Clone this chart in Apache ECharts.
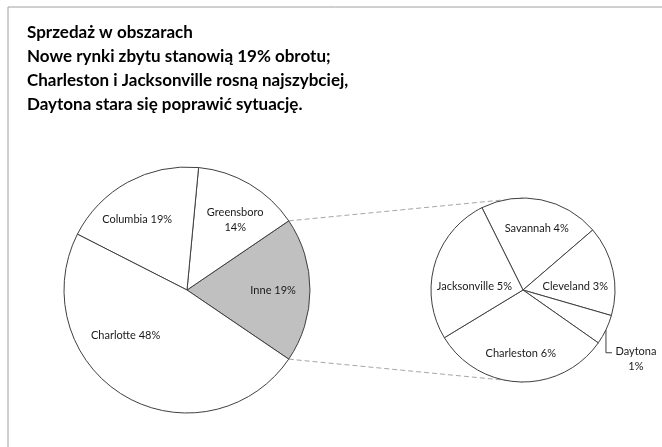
<!DOCTYPE html>
<html>
<head>
<meta charset="utf-8">
<script src="https://cdn.jsdelivr.net/npm/echarts@6/dist/echarts.min.js"></script>
<style>
  html, body { margin: 0; padding: 0; background: #fff; }
  #main { width: 662px; height: 447px; }
</style>
</head>
<body>
<div id="main"></div>
<script>
// main pie, counterclockwise from the "Inne" wedge
const mainNames = ['Inne', 'Greensboro', 'Columbia', 'Charlotte']
const mainValues = [19, 14, 19, 48]
// breakdown of "Inne", clockwise from the top-left
const subNames = ['Savannah', 'Cleveland', 'Daytona', 'Charleston', 'Jacksonville']
const subValues = [4, 3, 1, 6, 5]

const titleLines = [
  'Sprzedaż w obszarach',
  'Nowe rynki zbytu stanowią 19% obrotu;',
  'Charleston i Jacksonville rosną najszybciej,',
  'Daytona stara się poprawić sytuację.'
]

// layout
const FONT = 'Lato'
const MAIN = { cx: 187, cy: 290, r: 123 }
const SUB = { cx: 523, cy: 290, r: 92, start: 116.5 }
// label spot: [angle deg ccw from east, distance as fraction of radius]
const labelSpot = {
  Inne: [0, 0.70],
  Greensboro: [55.4, 0.69],
  Columbia: [125.4, 0.70],
  Charlotte: [216.4, 0.62],
  Savannah: [77.5, 0.69],
  Cleveland: [4.4, 0.57],
  Jacksonville: [175.3, 0.53],
  Charleston: [-92, 0.69]
}

const total = (arr) => arr.reduce((a, b) => a + b, 0)
const rad = (d) => d * Math.PI / 180
const onCircle = (p, ang, f) => [p.cx + p.r * f * Math.cos(rad(ang)), p.cy - p.r * f * Math.sin(rad(ang))]

const mainTotal = total(mainValues)
const subTotal = total(subValues)
const otherHalf = mainValues[0] / mainTotal * 180
const mainStart = 360 - otherHalf

// mid angle of a wedge in the small pie (clockwise from SUB.start)
function subMidAngle (i) {
  let before = 0
  for (let k = 0; k < i; k++) before += subValues[k]
  return SUB.start - (before + subValues[i] / 2) / subTotal * 360
}

const pct = (v) => Math.round(v / mainTotal * 100) + '%'

const lineColor = '#404040'
const textStyle = { fontFamily: FONT, fontSize: 11, color: '#1a1a1a' }

const mainData = mainNames.map((n, i) => ({
  name: n,
  value: mainValues[i],
  itemStyle: { color: n === 'Inne' ? '#c0c0c0' : '#ffffff' },
  label: { formatter: n === 'Greensboro' ? n + '\n' + pct(mainValues[i]) : n + ' ' + pct(mainValues[i]) }
}))

const subData = subNames.map((n, i) => {
  const item = {
    name: n,
    value: subValues[i],
    itemStyle: { color: '#ffffff' },
    label: { formatter: n + ' ' + pct(subValues[i]) }
  }
  if (n === 'Daytona') {
    item.label = { position: 'outside', formatter: n + '\n' + pct(subValues[i]) }
    item.labelLine = { show: true, lineStyle: { color: lineColor, width: 1 } }
  }
  return item
})

function placeLabel (pie, params) {
  const name = params.text.split(/[\s\n]/)[0]
  if (name === 'Daytona') {
    const p = onCircle(SUB, subMidAngle(subNames.indexOf('Daytona')), 1)
    const y = p[1] + 23
    return {
      x: p[0] + 30,
      y: y - 9,
      align: 'center',
      verticalAlign: 'top',
      labelLinePoints: [p, [p[0], y], [p[0] + 6, y]]
    }
  }
  const s = labelSpot[name]
  if (!s) return {}
  const q = onCircle(pie, s[0], s[1])
  return { x: q[0], y: q[1], align: 'center', verticalAlign: 'middle' }
}

// dashed connectors from the "Inne" wedge edges to top / bottom of the small pie
const edgeTop = onCircle(MAIN, otherHalf, 1)
const edgeBottom = onCircle(MAIN, -otherHalf, 1)
const subTop = [SUB.cx, SUB.cy - SUB.r]
const subBottom = [SUB.cx, SUB.cy + SUB.r]
const dashStyle = { stroke: '#a6a6a6', lineWidth: 1, lineDash: [5, 3] }

const chart = echarts.init(document.getElementById('main'), null, { renderer: 'canvas' })

const option = {
  backgroundColor: '#ffffff',
  animation: false,
  title: {
    text: titleLines.join('\n'),
    left: 22,
    top: 16,
    textStyle: { fontFamily: FONT, fontSize: 17, fontWeight: 'bold', color: '#000', lineHeight: 24 }
  },
  graphic: [
    {
      type: 'rect',
      shape: { x: 8, y: 7, width: 700, height: 500 },
      style: { fill: 'none', stroke: '#a0a0a0', lineWidth: 1 },
      z: -10
    },
    { type: 'line', shape: { x1: edgeTop[0], y1: edgeTop[1], x2: subTop[0], y2: subTop[1] }, style: dashStyle, z: -5 },
    { type: 'line', shape: { x1: edgeBottom[0], y1: edgeBottom[1], x2: subBottom[0], y2: subBottom[1] }, style: dashStyle, z: -5 }
  ],
  series: [
    {
      type: 'pie',
      center: [MAIN.cx, MAIN.cy],
      radius: MAIN.r,
      startAngle: mainStart,
      clockwise: false,
      silent: true,
      z: 5,
      itemStyle: { borderColor: lineColor, borderWidth: 1 },
      label: Object.assign({ position: 'inside', lineHeight: 15 }, textStyle),
      labelLine: { show: false },
      labelLayout: (params) => placeLabel(MAIN, params),
      data: mainData
    },
    {
      type: 'pie',
      center: [SUB.cx, SUB.cy],
      radius: SUB.r,
      startAngle: SUB.start,
      clockwise: true,
      silent: true,
      z: 5,
      minAngle: 0,
      avoidLabelOverlap: false,
      itemStyle: { borderColor: lineColor, borderWidth: 1 },
      label: Object.assign({ position: 'inside', lineHeight: 15 }, textStyle),
      labelLine: { show: false },
      labelLayout: (params) => placeLabel(SUB, params),
      data: subData
    }
  ]
}

chart.setOption(option)
</script>
</body>
</html>
